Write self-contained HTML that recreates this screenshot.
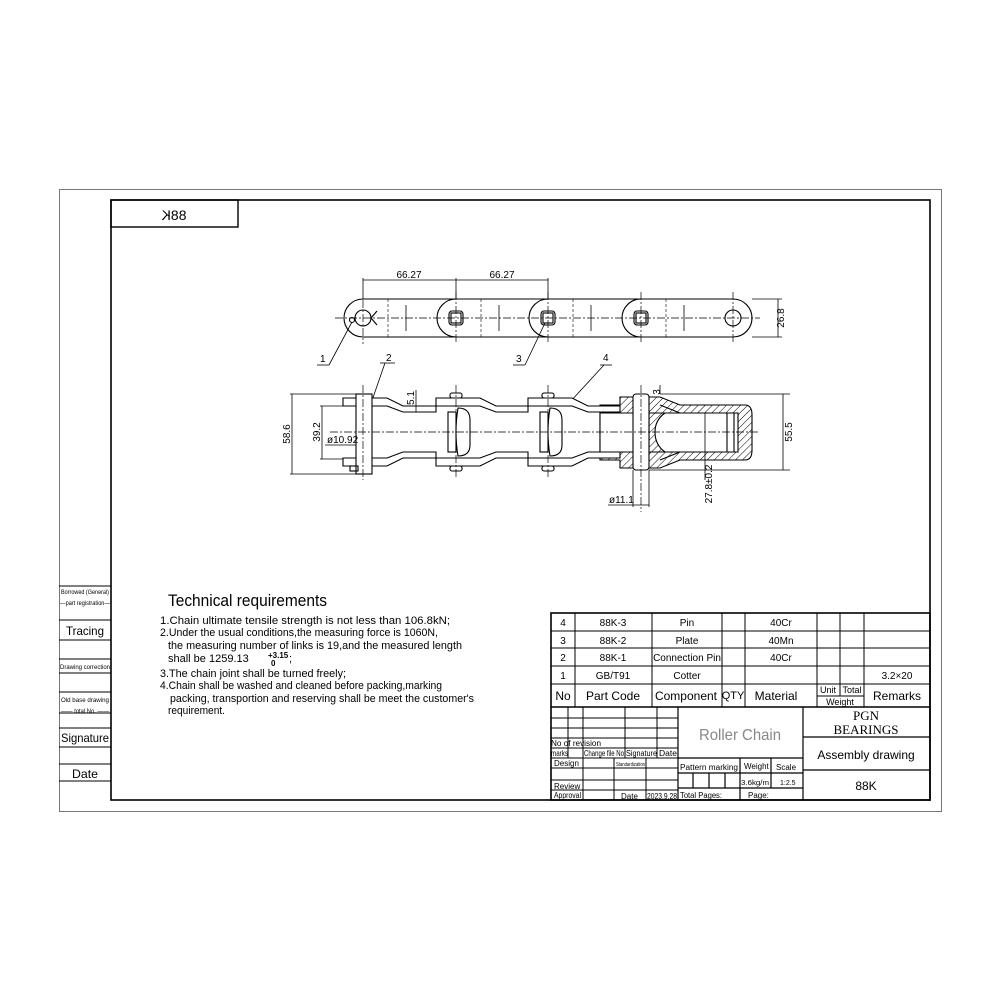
<!DOCTYPE html>
<html><head><meta charset="utf-8"><style>
html,body{margin:0;padding:0;background:#fff}
svg{display:block}
text{font-family:"Liberation Sans",sans-serif;fill:#000}
</style></head><body>
<svg width="1000" height="1000" viewBox="0 0 1000 1000" xmlns="http://www.w3.org/2000/svg">
<defs>
<pattern id="h" width="5" height="5" patternUnits="userSpaceOnUse" patternTransform="rotate(45)"><line x1="0" y1="0" x2="0" y2="5" stroke="#000" stroke-width="1"/></pattern>
</defs>
<!-- frames -->
<rect x="59.5" y="189.5" width="882" height="622" fill="none" stroke="#777" stroke-width="1"/>
<rect x="111" y="200" width="819" height="600" fill="none" stroke="#000" stroke-width="1.6"/>
<rect x="111" y="200" width="127" height="27" fill="none" stroke="#000" stroke-width="1.4"/>
<text x="174" y="220" font-size="14" text-anchor="middle" transform="translate(348,0) scale(-1,1)">88K</text>

<!-- left strip -->
<g stroke="#000" stroke-width="1" fill="none">
<line x1="59" y1="586" x2="111" y2="586"/>
<line x1="59" y1="620" x2="111" y2="620"/>
<line x1="59" y1="640" x2="111" y2="640"/>
<line x1="59" y1="659" x2="111" y2="659"/>
<line x1="59" y1="673" x2="111" y2="673"/>
<line x1="59" y1="692" x2="111" y2="692"/>
<line x1="59" y1="713" x2="111" y2="713"/>
<line x1="59" y1="728" x2="111" y2="728"/>
<line x1="59" y1="747" x2="111" y2="747"/>
<line x1="59" y1="764" x2="111" y2="764"/>
<line x1="59" y1="781" x2="111" y2="781"/>
</g>
<g font-size="6">
<text x="85" y="594" text-anchor="middle" textLength="48" lengthAdjust="spacingAndGlyphs">Borrowed (General)</text>
<text x="85" y="605" text-anchor="middle" textLength="50" lengthAdjust="spacingAndGlyphs">—part registration—</text>
<text x="85" y="669" text-anchor="middle" textLength="50" lengthAdjust="spacingAndGlyphs">Drawing correction</text>
<text x="85" y="702" text-anchor="middle" textLength="48" lengthAdjust="spacingAndGlyphs">Old base drawing</text>
<text x="85" y="713" text-anchor="middle" textLength="48" lengthAdjust="spacingAndGlyphs">—— total No. ——</text>
</g>
<text x="85" y="635" font-size="12" text-anchor="middle" textLength="38" lengthAdjust="spacingAndGlyphs">Tracing</text>
<text x="85" y="742" font-size="12" text-anchor="middle" textLength="48" lengthAdjust="spacingAndGlyphs">Signature</text>
<text x="85" y="778" font-size="12" text-anchor="middle" textLength="26" lengthAdjust="spacingAndGlyphs">Date</text>

<!-- top view -->
<g stroke="#000" stroke-width="1.1" fill="#fff">
<path d="M363,299 L733,299 A19,19 0 0 1 733,337 L363,337 A19,19 0 0 1 363,299 Z"/>
<path d="M456,299 A19,19 0 0 0 456,337" fill="none"/>
<path d="M548,299 A19,19 0 0 0 548,337" fill="none"/>
<path d="M641,299 A19,19 0 0 0 641,337" fill="none"/>
<circle cx="363" cy="318" r="8"/>
<circle cx="733" cy="318" r="8"/>
<circle cx="352" cy="320" r="2.5"/>
<path d="M371,318 L377,311 M371,318 L377,325" fill="none"/>
<rect x="449" y="311" width="14" height="14" rx="3"/><rect x="451" y="313" width="10" height="10"/>
<rect x="541" y="311" width="14" height="14" rx="3"/><rect x="543" y="313" width="10" height="10"/>
<rect x="634" y="311" width="14" height="14" rx="3"/><rect x="636" y="313" width="10" height="10"/>
</g>
<g stroke="#000" stroke-width="0.7" fill="none" stroke-dasharray="8,2,2,2">
<line x1="335" y1="318" x2="760" y2="318"/>
<line x1="456" y1="292" x2="456" y2="344"/><line x1="548" y1="292" x2="548" y2="344"/>
<line x1="641" y1="292" x2="641" y2="344"/><line x1="733" y1="292" x2="733" y2="344"/>
<line x1="363" y1="300" x2="363" y2="344"/>
</g>
<g stroke="#000" stroke-width="0.6" stroke-dasharray="3,2">
<line x1="388" y1="299" x2="388" y2="337"/><line x1="481" y1="299" x2="481" y2="337"/>
<line x1="573" y1="299" x2="573" y2="337"/><line x1="666" y1="299" x2="666" y2="337"/>
</g>
<g stroke="#000" stroke-width="0.8">
<line x1="406" y1="305" x2="406" y2="331"/><line x1="499" y1="305" x2="499" y2="331"/>
<line x1="591" y1="305" x2="591" y2="331"/><line x1="684" y1="305" x2="684" y2="331"/>
<line x1="363" y1="280" x2="548" y2="280"/>
<line x1="363" y1="278" x2="363" y2="299"/><line x1="456" y1="278" x2="456" y2="299"/><line x1="548" y1="278" x2="548" y2="299"/>
<line x1="778" y1="299" x2="778" y2="337"/>
<line x1="752" y1="299" x2="782" y2="299"/><line x1="752" y1="337" x2="782" y2="337"/>
<line x1="317" y1="365" x2="329" y2="365"/><line x1="329" y1="365" x2="352" y2="322"/>
<line x1="513" y1="365" x2="525" y2="365"/><line x1="525" y1="365" x2="545" y2="323"/>
<line x1="380" y1="363" x2="395" y2="363"/><line x1="385" y1="363" x2="368" y2="412"/>
<line x1="600" y1="365" x2="612" y2="365"/><line x1="604" y1="365" x2="570" y2="402"/>
</g>
<g font-size="10">
<text x="409" y="278" text-anchor="middle">66.27</text>
<text x="502" y="278" text-anchor="middle">66.27</text>
<text x="0" y="0" transform="translate(784,318) rotate(-90)" text-anchor="middle">26.8</text>
<text x="320" y="362">1</text><text x="386" y="361">2</text><text x="516" y="362">3</text><text x="603" y="361">4</text>
</g>

<!-- side view -->
<g stroke="#000" stroke-width="1.1" fill="#fff">
<!-- hatched right part -->
<path d="M600,405 L620,405 L620,397 L660,397 L680,405 L745,405 Q752,405 752,415 L752,450 Q752,460 745,460 L680,460 L660,468 L620,468 L620,460 L600,460 Z" fill="url(#h)"/>
<path d="M600,413 L685,413 L738,413 L738,452 L685,452 L600,452 Z" fill="#fff"/>
<path d="M660,405 L680,413 M660,460 L680,452" fill="none"/>
<path d="M649,413 L665,413 Q655,420 655,432 Q655,445 665,452 L649,452 Z" fill="url(#h)"/>
<line x1="727" y1="413" x2="727" y2="452"/><line x1="734" y1="413" x2="734" y2="452"/>
<!-- link plates -->
<path d="M343,398 L387,398 L403,406 L436,406 L436,412 L403,412 L387,406 L343,406 Z"/>
<path d="M343,466 L387,466 L403,458 L436,458 L436,452 L403,452 L387,458 L343,458 Z"/>
<path d="M436,398 L480,398 L496,406 L528,406 L528,412 L496,412 L480,406 L436,406 Z"/>
<path d="M436,466 L480,466 L496,458 L528,458 L528,452 L496,452 L480,458 L436,458 Z"/>
<path d="M528,398 L572,398 L588,406 L620,406 L620,412 L588,412 L572,406 L528,406 Z"/>
<path d="M528,466 L572,466 L588,458 L620,458 L620,452 L588,452 L572,458 L528,458 Z"/>
<!-- pins -->
<rect x="356" y="394" width="16" height="80"/>
<rect x="633" y="394" width="16" height="76" rx="3"/>
<!-- rollers -->
<rect x="448" y="412" width="8" height="40" fill="none"/>
<path d="M458,408 Q470,408 470,420 L470,445 Q470,456 458,456 Q454,432 458,408 Z"/>
<rect x="540" y="412" width="8" height="40" fill="none"/>
<path d="M550,408 Q562,408 562,420 L562,445 Q562,456 550,456 Q546,432 550,408 Z"/>
<rect x="450" y="393" width="12" height="5" rx="2"/><rect x="450" y="466" width="12" height="5" rx="2"/>
<rect x="542" y="393" width="12" height="5" rx="2"/><rect x="542" y="466" width="12" height="5" rx="2"/>
<rect x="350" y="466" width="8" height="5" fill="none"/>
</g>
<g stroke="#000" stroke-width="0.7" fill="none" stroke-dasharray="8,2,2,2">
<line x1="330" y1="432" x2="760" y2="432"/>
<line x1="363" y1="385" x2="363" y2="480"/><line x1="456" y1="385" x2="456" y2="478"/>
<line x1="548" y1="385" x2="548" y2="478"/><line x1="641" y1="385" x2="641" y2="512"/>
</g>
<g stroke="#000" stroke-width="0.8" fill="none">
<line x1="292" y1="394" x2="292" y2="474"/>
<line x1="290" y1="394" x2="356" y2="394"/><line x1="290" y1="474" x2="356" y2="474"/>
<line x1="322" y1="406" x2="322" y2="459"/>
<line x1="320" y1="406" x2="343" y2="406"/><line x1="320" y1="459" x2="343" y2="459"/>
<line x1="325" y1="445" x2="356" y2="445"/>
<line x1="416" y1="412" x2="416" y2="390"/>
<line x1="783" y1="394" x2="783" y2="470"/>
<line x1="660" y1="394" x2="790" y2="394"/><line x1="649" y1="470" x2="790" y2="470"/>
<line x1="705" y1="413" x2="705" y2="480"/>
<line x1="633" y1="470" x2="633" y2="507"/><line x1="649" y1="470" x2="649" y2="507"/>
<line x1="608" y1="505" x2="649" y2="505"/>
<line x1="660" y1="394" x2="660" y2="385"/>
</g>
<g font-size="10">
<text x="0" y="0" transform="translate(290,434) rotate(-90)" text-anchor="middle">58.6</text>
<text x="0" y="0" transform="translate(320,432) rotate(-90)" text-anchor="middle">39.2</text>
<text x="327" y="443">ø10.92</text>
<text x="0" y="0" transform="translate(414,398) rotate(-90)" text-anchor="middle">5.1</text>
<text x="0" y="0" transform="translate(660,392) rotate(-90)" text-anchor="middle">3</text>
<text x="0" y="0" transform="translate(792,432) rotate(-90)" text-anchor="middle">55.5</text>
<text x="0" y="0" transform="translate(712,484) rotate(-90)" text-anchor="middle">27.8±0.2</text>
<text x="609" y="503">ø11.1</text>
</g>

<!-- technical requirements -->
<text x="168" y="606" font-size="17" textLength="159" lengthAdjust="spacingAndGlyphs">Technical requirements</text>
<g font-size="11">
<text x="160" y="624" textLength="290" lengthAdjust="spacingAndGlyphs">1.Chain ultimate tensile strength is not less than 106.8kN;</text>
<text x="160" y="636" textLength="278" lengthAdjust="spacingAndGlyphs">2.Under the usual conditions,the measuring force is 1060N,</text>
<text x="168" y="649" textLength="294" lengthAdjust="spacingAndGlyphs">the measuring number of links is 19,and the measured length</text>
<text x="168" y="662">shall be 1259.13</text>
<text x="289" y="662">;</text>
<text x="160" y="677" textLength="186" lengthAdjust="spacingAndGlyphs">3.The chain joint shall be turned freely;</text>
<text x="160" y="689" textLength="282" lengthAdjust="spacingAndGlyphs">4.Chain shall be washed and cleaned before packing,marking</text>
<text x="170" y="702" textLength="304" lengthAdjust="spacingAndGlyphs">packing, transportion and reserving shall be meet the customer's</text>
<text x="168" y="714" textLength="57" lengthAdjust="spacingAndGlyphs">requirement.</text>
</g>
<text x="268" y="658" font-size="8" font-weight="bold">+3.15</text>
<text x="271" y="666" font-size="8" font-weight="bold">0</text>

<!-- title block -->
<g stroke="#000" fill="none">
<rect x="551" y="613" width="379" height="187" stroke-width="1.6"/>
<line x1="551" y1="707" x2="930" y2="707" stroke-width="1.6"/>
<g stroke-width="1">
<line x1="551" y1="631" x2="930" y2="631"/><line x1="551" y1="648" x2="930" y2="648"/>
<line x1="551" y1="666" x2="930" y2="666"/><line x1="551" y1="684" x2="930" y2="684"/>
<line x1="575" y1="613" x2="575" y2="707"/><line x1="652" y1="613" x2="652" y2="707"/>
<line x1="722" y1="613" x2="722" y2="707"/><line x1="745" y1="613" x2="745" y2="707"/>
<line x1="817" y1="613" x2="817" y2="707"/><line x1="840" y1="613" x2="840" y2="696"/>
<line x1="864" y1="613" x2="864" y2="707"/>
<line x1="817" y1="696" x2="864" y2="696"/>
</g>
<g stroke-width="1.2">
<line x1="678" y1="707" x2="678" y2="800"/><line x1="803" y1="707" x2="803" y2="800"/>
<line x1="803" y1="737" x2="930" y2="737"/><line x1="803" y1="770" x2="930" y2="770"/>
<line x1="678" y1="758" x2="803" y2="758"/><line x1="678" y1="773" x2="803" y2="773"/>
<line x1="678" y1="788" x2="803" y2="788"/>
<line x1="740" y1="758" x2="740" y2="800"/><line x1="771" y1="758" x2="771" y2="788"/>
<line x1="693" y1="773" x2="693" y2="788"/><line x1="709" y1="773" x2="709" y2="788"/><line x1="725" y1="773" x2="725" y2="788"/>
</g>
<g stroke-width="1">
<line x1="551" y1="718" x2="678" y2="718"/><line x1="551" y1="728" x2="678" y2="728"/>
<line x1="551" y1="738" x2="678" y2="738"/><line x1="551" y1="748" x2="678" y2="748"/>
<line x1="551" y1="758" x2="678" y2="758"/><line x1="551" y1="768" x2="678" y2="768"/>
<line x1="551" y1="780" x2="678" y2="780"/><line x1="551" y1="790" x2="678" y2="790"/>
<line x1="568" y1="707" x2="568" y2="758"/><line x1="583" y1="707" x2="583" y2="800"/>
<line x1="625" y1="707" x2="625" y2="758"/><line x1="657" y1="707" x2="657" y2="758"/>
<line x1="614" y1="758" x2="614" y2="800"/><line x1="646" y1="758" x2="646" y2="800"/>
</g>
</g>
<g font-size="10" text-anchor="middle">
<text x="563" y="626">4</text><text x="613" y="626">88K-3</text><text x="687" y="626">Pin</text><text x="781" y="626">40Cr</text>
<text x="563" y="644">3</text><text x="613" y="644">88K-2</text><text x="687" y="644">Plate</text><text x="781" y="644">40Mn</text>
<text x="563" y="661">2</text><text x="613" y="661">88K-1</text><text x="687" y="661">Connection Pin</text><text x="781" y="661">40Cr</text>
<text x="563" y="679">1</text><text x="613" y="679">GB/T91</text><text x="687" y="679">Cotter</text><text x="897" y="679">3.2×20</text>
</g>
<g font-size="12" text-anchor="middle">
<text x="563" y="700">No</text><text x="613" y="700">Part Code</text><text x="686" y="700">Component</text>
<text x="733" y="699" font-size="11">QTY</text><text x="776" y="700">Material</text><text x="897" y="700">Remarks</text>
</g>
<g font-size="9" text-anchor="middle"><text x="828" y="693">Unit</text><text x="852" y="693">Total</text><text x="840" y="705">Weight</text></g>
<text x="740" y="740" font-size="16" text-anchor="middle" style="fill:#888" textLength="82" lengthAdjust="spacingAndGlyphs">Roller Chain</text>
<text x="866" y="720" font-size="13" text-anchor="middle" style="font-family:'Liberation Serif',serif">PGN</text>
<text x="866" y="734" font-size="13" text-anchor="middle" style="font-family:'Liberation Serif',serif">BEARINGS</text>
<text x="866" y="759" font-size="12" text-anchor="middle">Assembly drawing</text>
<text x="866" y="790" font-size="12" text-anchor="middle">88K</text>
<g font-size="8">
<text x="551" y="746" textLength="50" lengthAdjust="spacingAndGlyphs">No of revision</text>
<text x="551" y="756" textLength="17" lengthAdjust="spacingAndGlyphs">marks</text>
<text x="584" y="756" textLength="40" lengthAdjust="spacingAndGlyphs">Change file No</text>
<text x="626" y="756" textLength="31" lengthAdjust="spacingAndGlyphs">Signature</text>
<text x="659" y="756" textLength="18" lengthAdjust="spacingAndGlyphs">Date</text>
<text x="554" y="766">Design</text>
<text x="616" y="766" font-size="5" textLength="29" lengthAdjust="spacingAndGlyphs">Standardization</text>
<text x="554" y="789">Review</text>
<text x="554" y="798" textLength="27" lengthAdjust="spacingAndGlyphs">Approval</text>
<text x="621" y="799">Date</text>
<text x="647" y="799" textLength="30" lengthAdjust="spacingAndGlyphs">2023.9.28</text>
<text x="680" y="770" textLength="58" lengthAdjust="spacingAndGlyphs">Pattern marking</text>
<text x="744" y="769">Weight</text><text x="776" y="770">Scale</text>
<text x="741" y="785" font-size="7" textLength="28" lengthAdjust="spacingAndGlyphs">3.6kg/m</text>
<text x="780" y="785" font-size="7">1:2.5</text>
<text x="680" y="798" textLength="42" lengthAdjust="spacingAndGlyphs">Total Pages:</text>
<text x="748" y="798">Page:</text>
</g>
</svg>
</body></html>
